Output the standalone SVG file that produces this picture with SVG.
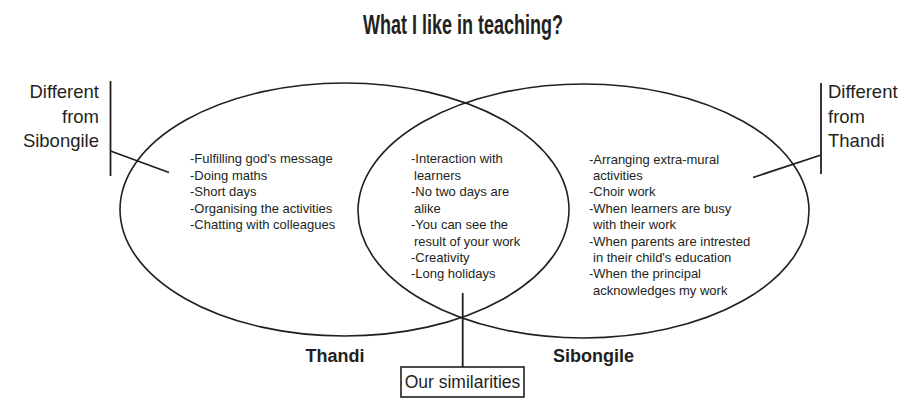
<svg xmlns="http://www.w3.org/2000/svg" width="919" height="398" viewBox="0 0 919 398">
<style>
text{font-family:"Liberation Sans",Arial,sans-serif;fill:#231f20}
.lst{font-size:13px}
.lbl{font-size:18.5px}
.name{font-size:18px;font-weight:bold}
.shape{fill:none;stroke:#231f20;stroke-width:1.6}
.conn{fill:none;stroke:#231f20;stroke-width:1.8}
</style>
<rect width="919" height="398" fill="#fff"/>
<g id="title">
<text x="363" y="34" font-size="28" font-weight="bold" textLength="200" lengthAdjust="spacingAndGlyphs">What I like in teaching?</text>
</g>
<g id="thandi">
<ellipse class="shape" cx="344.5" cy="209.5" rx="224.5" ry="126.5"/>
<text class="lst" x="190" y="163">-Fulfilling god's message</text>
<text class="lst" x="190" y="179.5">-Doing maths</text>
<text class="lst" x="190" y="196">-Short days</text>
<text class="lst" x="190" y="212.5">-Organising the activities</text>
<text class="lst" x="190" y="229">-Chatting with colleagues</text>
<text class="name" x="335" y="362" text-anchor="middle">Thandi</text>
</g>
<g id="sibongile">
<ellipse class="shape" cx="583.5" cy="211" rx="225.5" ry="127"/>
<text class="lst" x="589" y="163.5">-Arranging extra-mural</text>
<text class="lst" x="593" y="180">activities</text>
<text class="lst" x="589" y="196">-Choir work</text>
<text class="lst" x="589" y="212.5">-When learners are busy</text>
<text class="lst" x="593" y="229">with their work</text>
<text class="lst" x="589" y="245.5">-When parents are intrested</text>
<text class="lst" x="593" y="262">in their child's education</text>
<text class="lst" x="589" y="278">-When the principal</text>
<text class="lst" x="593" y="294.5">acknowledges my work</text>
<text class="name" x="553" y="362">Sibongile</text>
</g>
<g id="overlap">
<text class="lst" x="411" y="163">-Interaction with</text>
<text class="lst" x="414" y="179.5">learners</text>
<text class="lst" x="411" y="196">-No two days are</text>
<text class="lst" x="414" y="212.5">alike</text>
<text class="lst" x="411" y="229">-You can see the</text>
<text class="lst" x="414" y="245.5">result of your work</text>
<text class="lst" x="411" y="262">-Creativity</text>
<text class="lst" x="411" y="278">-Long holidays</text>
</g>
<g id="label-diff-sibongile">
<text class="lbl" x="99" y="98" text-anchor="end">Different</text>
<text class="lbl" x="99" y="122.5" text-anchor="end">from</text>
<text class="lbl" x="99" y="147" text-anchor="end">Sibongile</text>
</g>
<g id="label-diff-thandi">
<text class="lbl" x="828" y="98">Different</text>
<text class="lbl" x="828" y="122.5">from</text>
<text class="lbl" x="828" y="146.5">Thandi</text>
</g>
<g id="label-similarities">
<rect class="shape" x="401" y="367" width="123" height="30" stroke-width="1.3"/>
<text x="462.5" y="387.5" font-size="17.5" text-anchor="middle">Our similarities</text>
</g>
<g id="connectors">
<line class="conn" x1="110.5" y1="81" x2="110.5" y2="176"/>
<line class="conn" x1="110.5" y1="151" x2="169" y2="172.5"/>
<line class="conn" x1="821" y1="83" x2="821" y2="174"/>
<line class="conn" x1="821" y1="155" x2="753" y2="177.5"/>
<line class="conn" x1="462.7" y1="293" x2="462.7" y2="367"/>
</g>
</svg>
